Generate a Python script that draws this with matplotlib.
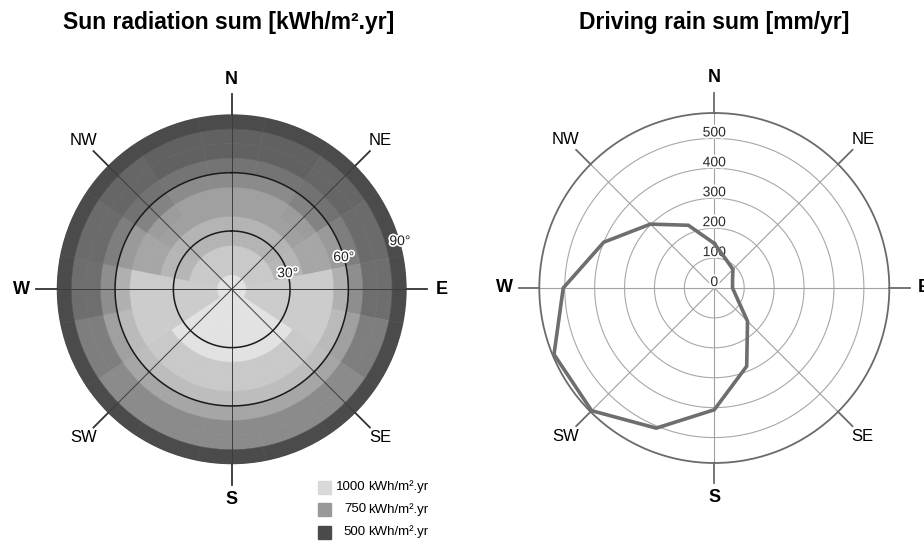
import numpy as np
import matplotlib
matplotlib.use('Agg')
from matplotlib import pyplot as plt
from matplotlib.colors import LinearSegmentedColormap, Normalize
from matplotlib.patches import Rectangle
import matplotlib.patheffects as pe

plt.rc('font', family='Liberation Sans')

# compass sectors, clockwise from north (22.5 deg each)
directions = ['N', 'NNE', 'NE', 'ENE', 'E', 'ESE', 'SE', 'SSE',
              'S', 'SSW', 'SW', 'WSW', 'W', 'WNW', 'NW', 'NNW']
# tilt bands of the sun radiation rose (0 = horizontal, 90 = vertical)
tilt_edges = [0, 7.5, 15, 22.5, 30, 37.5, 45, 52.5, 60, 67.5, 75, 82.5, 90]

# sun radiation sum per tilt band [kWh/m2.yr], one list per orientation
sun_N   = [1040, 935, 935, 855, 855, 775, 775, 705, 635, 575, 575, 505]
sun_NNE = [1040, 935, 935, 855, 855, 775, 775, 705, 635, 575, 575, 505]
sun_NE  = [1040, 935, 935, 855, 855, 775, 760, 680, 625, 590, 590, 505]
sun_ENE = [1040, 935, 935, 865, 865, 800, 800, 755, 665, 605, 605, 505]
sun_E   = [1040, 950, 950, 950, 950, 950, 950, 840, 715, 615, 615, 505]
sun_ESE = [1040, 950, 950, 950, 950, 950, 950, 880, 775, 665, 665, 505]
sun_SE  = [1040, 1040, 1040, 1040, 1040, 935, 935, 890, 800, 705, 705, 505]
sun_SSE = [1040, 1040, 1040, 1040, 1040, 935, 935, 890, 800, 705, 705, 505]
sun_S   = [1040, 1040, 1040, 1040, 1040, 935, 935, 890, 800, 705, 705, 505]
sun_SSW = [1040, 1040, 1040, 1040, 1040, 935, 935, 890, 800, 705, 705, 505]
sun_SW  = [1040, 1040, 1040, 1040, 1040, 935, 935, 890, 800, 705, 705, 505]
sun_WSW = [1040, 950, 950, 950, 950, 950, 950, 880, 775, 665, 665, 505]
sun_W   = [1040, 950, 950, 950, 950, 950, 950, 840, 715, 615, 615, 505]
sun_WNW = [1040, 935, 935, 865, 865, 800, 800, 755, 665, 605, 605, 505]
sun_NW  = [1040, 935, 935, 855, 855, 775, 760, 680, 625, 590, 590, 505]
sun_NNW = [1040, 935, 935, 855, 855, 775, 775, 705, 635, 575, 575, 505]

# driving rain sum per orientation [mm/yr]
rain_sum = [149, 103, 88, 66, 61, 81, 157, 283, 407, 507, 580, 580, 505, 400, 302, 227]

legend_values = [1000, 750, 500]
tilt_labels = [30, 60, 90]
rain_rings = [100, 200, 300, 400, 500]
major_dirs = ['N', 'E', 'S', 'W']
minor_dirs = ['NE', 'SE', 'SW', 'NW']

sun_table = [sun_N, sun_NNE, sun_NE, sun_ENE, sun_E, sun_ESE, sun_SE, sun_SSE,
             sun_S, sun_SSW, sun_SW, sun_WSW, sun_W, sun_WNW, sun_NW, sun_NNW]

cmap = LinearSegmentedColormap.from_list(
    'sun', [(0.0, '#4a4a4a'), (250 / 550, '#999999'), (500 / 550, '#d9d9d9'), (1.0, '#e4e4e4')])
norm = Normalize(500, 1050)

W, H = 924, 544
fig = plt.figure(figsize=(W / 100, H / 100), dpi=100)


def polar_axes(cx, cy, r):
    ax = fig.add_axes([(cx - r) / W, (H - cy - r) / H, 2 * r / W, 2 * r / H], projection='polar')
    ax.set_theta_zero_location('N')
    ax.set_theta_direction(-1)
    ax.set_xticks([])
    ax.set_yticks([])
    ax.grid(False)
    return ax


def compass(ax, rmax, tick_len, label_r, color):
    for i, d in enumerate(directions):
        if d not in major_dirs and d not in minor_dirs:
            continue
        a = np.deg2rad(i * 22.5)
        ax.plot([a, a], [rmax, rmax + tick_len], color=color, lw=1.3, clip_on=False)
        bold = d in major_dirs
        ax.text(a, label_r, d, ha='center', va='center',
                fontsize=13 if bold else 12, fontweight='bold' if bold else 'normal')


full = np.linspace(0, 2 * np.pi, 361)

# ---------------- sun radiation rose ----------------
ax1 = polar_axes(231.7, 289.3, 175)
ax1.set_ylim(0, 90)
ax1.spines['polar'].set_visible(False)
band_h = np.diff(tilt_edges)
for i, vals in enumerate(sun_table):
    c = cmap(norm(np.array(vals)))
    ax1.bar(np.full(len(vals), np.deg2rad(i * 22.5)), band_h, width=np.deg2rad(22.5),
            bottom=tilt_edges[:-1], color=c, edgecolor=c, linewidth=0.4, align='center')

for ang in [0, 45, 90, 135, 180, 225, 270, 315]:
    a = np.deg2rad(ang)
    ax1.plot([a, a], [0, 90], color='#3c3c3c', lw=0.7)
for t in tilt_labels[:2]:
    ax1.plot(full, np.full_like(full, t), color='#1a1a1a', lw=1.1)
for t in tilt_labels:
    ax1.text(np.deg2rad(74), t, '%d°' % t, ha='center', va='center', fontsize=10,
             color='#222222', path_effects=[pe.withStroke(linewidth=2.5, foreground='white')])
compass(ax1, 90, 10.5, 108, '#333333')

# ---------------- driving rain rose ----------------
ax2 = polar_axes(714.3, 288, 175)
ax2.set_ylim(0, 585)
ax2.spines['polar'].set_color('#6a6a6a')
ax2.spines['polar'].set_linewidth(1.3)
for v in rain_rings:
    ax2.plot(full, np.full_like(full, v), color='#a8a8a8', lw=0.8)
for ang in [0, 45, 90, 135, 180, 225, 270, 315]:
    a = np.deg2rad(ang)
    ax2.plot([a, a], [0, 585], color='#a0a0a0', lw=0.8)
for v in [0] + rain_rings:
    ax2.text(0, v + 20, str(v), ha='center', va='center', fontsize=10, color='#2a2a2a',
             path_effects=[pe.withStroke(linewidth=3, foreground='white')])
rain_theta = np.deg2rad(np.arange(len(rain_sum)) * 22.5)
ax2.plot(np.append(rain_theta, rain_theta[0]), rain_sum + rain_sum[:1],
         color='#6e6e6e', lw=2.6, solid_joinstyle='miter', clip_on=False, zorder=5)
compass(ax2, 585, 68, 702, '#6a6a6a')

# ---------------- titles ----------------
fig.text(229 / W, 1 - 22 / H, 'Sun radiation sum [kWh/m².yr]', ha='center', va='center',
         fontsize=16.5, fontweight='bold')
fig.text(714 / W, 1 - 22 / H, 'Driving rain sum [mm/yr]', ha='center', va='center',
         fontsize=16.5, fontweight='bold')

# ---------------- legend ----------------
for k, v in enumerate(legend_values):
    y = 487 + k * 22.5
    fig.add_artist(Rectangle((318 / W, 1 - (y + 6.5) / H), 13 / W, 13 / H,
                             transform=fig.transFigure, color=cmap(norm(v))))
    fig.text(366 / W, 1 - y / H, str(v), ha='right', va='center', fontsize=9.5)
    fig.text(368 / W, 1 - y / H, 'kWh/m².yr', ha='left', va='center', fontsize=9.5)

fig.savefig('out.png', dpi=100)
